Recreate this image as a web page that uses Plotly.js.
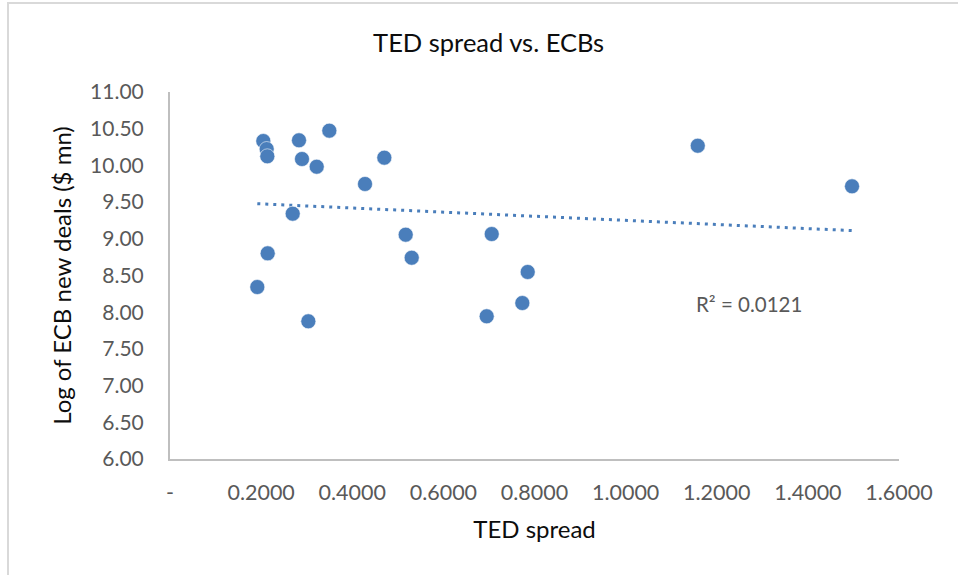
<!DOCTYPE html>
<html>
<head>
<meta charset="utf-8">
<script src="https://cdn.plot.ly/plotly-3.0.1.min.js"></script>
<style>
  html, body { margin: 0; padding: 0; background: #ffffff; }
  #wrap { position: relative; width: 958px; height: 575px; overflow: hidden; }
  #frame { position: absolute; left: 7px; top: 2px; width: 1000px; height: 1000px;
           border-left: 2px solid #d9d9d9; border-top: 2px solid #d9d9d9; box-sizing: border-box; }
  #chart { position: absolute; left: 0; top: 0; width: 958px; height: 575px; }
</style>
</head>
<body>
<div id="wrap">
  <div id="frame"></div>
  <div id="chart"></div>
</div>
<script>
// TED spread (x) and log of ECB new deals in $ mn (y)
const tedSpread = [0.1916, 0.2048, 0.2122, 0.2136, 0.2144, 0.2693, 0.2831, 0.2897, 0.3036, 0.3220,
                   0.3497, 0.4280, 0.4704, 0.5173, 0.5305, 0.6951, 0.7061, 0.7733, 0.7851, 1.1583, 1.4969];
const logEcbDeals = [8.343, 10.332, 10.223, 10.124, 8.802, 9.342, 10.342, 10.087, 7.876, 9.982,
                     10.473, 9.747, 10.105, 9.056, 8.742, 7.944, 9.065, 8.125, 8.548, 10.268, 9.715];
const xTickVals = [0, 0.2, 0.4, 0.6, 0.8, 1.0, 1.2, 1.4, 1.6];
const xTickText = ["-", "0.2000", "0.4000", "0.6000", "0.8000", "1.0000", "1.2000", "1.4000", "1.6000"];
const rSquaredLabel = "R² = 0.0121";

// linear least-squares trendline
const n = tedSpread.length;
const mx = tedSpread.reduce((a, b) => a + b, 0) / n;
const my = logEcbDeals.reduce((a, b) => a + b, 0) / n;
let sxy = 0, sxx = 0;
for (let i = 0; i < n; i++) { sxy += (tedSpread[i] - mx) * (logEcbDeals[i] - my); sxx += (tedSpread[i] - mx) ** 2; }
const slope = sxy / sxx, intercept = my - slope * mx;
const xMin = Math.min(...tedSpread), xMax = Math.max(...tedSpread);
const trendX = [xMin, xMax];
const trendY = trendX.map(v => intercept + slope * v);

const FONT = "Lato, 'Open Sans', sans-serif";
const data = [
  { x: trendX, y: trendY, type: "scatter", mode: "lines", hoverinfo: "skip",
    line: { color: "#4a7ebb", width: 3, dash: "3px,5px" } },
  { x: tedSpread, y: logEcbDeals, type: "scatter", mode: "markers",
    marker: { color: "#4a7ebb", size: 15, line: { color: "rgba(255,255,255,0.7)", width: 0.8 } } }
];
const layout = {
  width: 958, height: 575,
  paper_bgcolor: "rgba(0,0,0,0)", plot_bgcolor: "rgba(0,0,0,0)",
  margin: { l: 170, r: 59, t: 92, b: 116 },
  showlegend: false,
  font: { family: FONT, color: "#595959" },
  title: { text: "TED spread vs. ECBs", font: { family: FONT, size: 25.5, color: "#0d0d0d" },
           x: 0.51, xref: "container", xanchor: "center", y: 1 - 43 / 575, yref: "container", yanchor: "middle" },
  xaxis: {
    range: [0, 1.6], tickvals: xTickVals, ticktext: xTickText,
    showgrid: false, zeroline: false, showline: true, linecolor: "#bfbfbf", linewidth: 2,
    ticks: "outside", ticklen: 13, tickcolor: "rgba(0,0,0,0)", tickfont: { size: 21.5, color: "#595959" },
    title: { text: "TED spread", font: { size: 24, color: "#0d0d0d" }, standoff: 17 }
  },
  yaxis: {
    range: [6, 11], dtick: 0.5, tick0: 6, tickformat: ".2f",
    showgrid: false, zeroline: false, showline: true, linecolor: "#bfbfbf", linewidth: 2,
    ticks: "outside", ticklen: 20, tickcolor: "rgba(0,0,0,0)", tickfont: { size: 21, color: "#595959" },
    title: { text: "Log of ECB new deals ($ mn)", font: { size: 24, color: "#0d0d0d" }, standoff: 12 }
  },
  annotations: [
    { x: 1.271, y: 8.11, xref: "x", yref: "y", text: rSquaredLabel, showarrow: false,
      font: { size: 20.5, color: "#595959" }, xanchor: "center", yanchor: "middle" }
  ]
};
Plotly.newPlot("chart", data, layout, { displayModeBar: false, staticPlot: true });
</script>
</body>
</html>
